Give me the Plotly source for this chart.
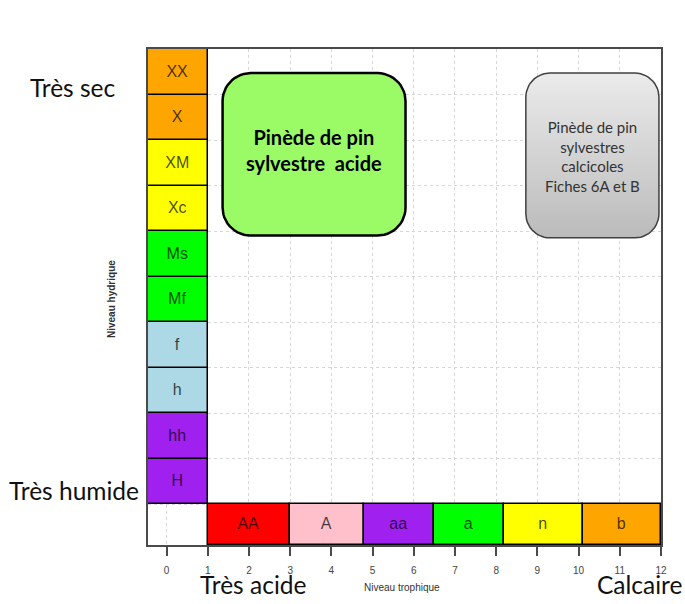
import numpy as np
import plotly.graph_objects as go

# ---------------- data ----------------
hydric_labels = ["H", "hh", "h", "f", "Mf", "Ms", "Xc", "XM", "X", "XX"]
hydric_colors = ["#A020F0", "#A020F0", "#ADD8E6", "#ADD8E6", "#00FF00", "#00FF00",
                 "#FFFF00", "#FFFF00", "#FFA500", "#FFA500"]
hydric_levels = [0, 1, 2, 3, 4, 5, 6, 7, 8, 9]

trophic_labels = ["AA", "A", "aa", "a", "n", "b"]
trophic_colors = ["#FF0000", "#FFC0CB", "#A020F0", "#00FF00", "#FFFF00", "#FFA500"]
trophic_bounds = [1, 3, 4.8, 6.5, 8.2, 10.1, 12]

x_ticks = list(range(0, 13))
y_grid = list(range(0, 11))

# habitat boxes: (x0, x1, y0, y1) in trophic / hydric units
box_acid = (1.36, 5.8, 5.9, 9.47)
box_calc = (8.72, 11.95, 5.85, 9.47)
text_acid = "<b>Pinède de pin<br>sylvestre  acide</b>"
text_calc = "Pinède de pin<br>sylvestres<br>calcicoles<br>Fiches 6A et B"

# ---------------- geometry ----------------
W, H = 685, 604
ML, MR, MT, MB = 148, 24, 49, 59
XR = [-0.45, 12.0]
YR = [-0.9, 10.0]
pw, ph = W - ML - MR, H - MT - MB
sx = pw / (XR[1] - XR[0])
sy = ph / (YR[1] - YR[0])

def paper(px, py):
    return (px - ML) / pw, (H - MB - py) / ph

def rounded(x0, x1, y0, y1, r_px, n=14):
    rx, ry = r_px / sx, r_px / sy
    xs, ys = [], []
    corners = [(x1 - rx, y1 - ry, 0), (x0 + rx, y1 - ry, 90),
               (x0 + rx, y0 + ry, 180), (x1 - rx, y0 + ry, 270)]
    for cx, cy, a0 in corners:
        for t in np.linspace(np.radians(a0), np.radians(a0 + 90), n):
            xs.append(cx + rx * np.cos(t))
            ys.append(cy + ry * np.sin(t))
    xs.append(xs[0]); ys.append(ys[0])
    return xs, ys

fig = go.Figure()

cell_font = dict(family="Liberation Sans, Arial", size=16, color="rgba(0,0,0,0.72)")

# left column: hydric levels
fig.add_trace(go.Bar(
    orientation="h",
    y=[v + 0.5 for v in hydric_levels],
    x=[1 - XR[0]] * len(hydric_levels),
    base=XR[0], width=1,
    marker=dict(color=hydric_colors, line=dict(color="black", width=1.5)),
    text=hydric_labels, textposition="inside", insidetextanchor="middle",
    textfont=cell_font, constraintext="none", hoverinfo="skip", showlegend=False,
))

# bottom row: trophic levels
tx = [(a + b) / 2 for a, b in zip(trophic_bounds[:-1], trophic_bounds[1:])]
tw = [b - a for a, b in zip(trophic_bounds[:-1], trophic_bounds[1:])]
fig.add_trace(go.Bar(
    x=tx, width=tw, y=[0 - YR[0]] * len(tx), base=YR[0],
    marker=dict(color=trophic_colors, line=dict(color="black", width=1.5)),
    text=trophic_labels, textposition="inside", insidetextanchor="middle",
    textfont=cell_font, constraintext="none", hoverinfo="skip", showlegend=False,
))

# habitat boxes
bx, by = rounded(*box_acid, r_px=28)
fig.add_trace(go.Scatter(x=bx, y=by, mode="lines", fill="toself",
                         fillcolor="#9BFB67", line=dict(color="black", width=2.5),
                         hoverinfo="skip", showlegend=False))
cx, cy = rounded(*box_calc, r_px=24)
fig.add_trace(go.Scatter(x=cx, y=cy, mode="lines", fill="toself",
                         fillgradient=dict(type="vertical",
                                           colorscale=[[0, "#BBBBBB"], [1, "#EBEBEB"]]),
                         line=dict(color="#404040", width=1.5),
                         hoverinfo="skip", showlegend=False))

fig.add_annotation(x=(box_acid[0] + box_acid[1]) / 2, y=(box_acid[2] + box_acid[3]) / 2 + 0.1,
                   text=text_acid, showarrow=False,
                   font=dict(family="Lato", size=20, color="black"))
fig.add_annotation(x=(box_calc[0] + box_calc[1]) / 2, y=(box_calc[2] + box_calc[3]) / 2 - 0.02,
                   text=text_calc, showarrow=False,
                   font=dict(family="Lato", size=15, color="#333333"))

# outer labels (page pixel positions)
outer = [("Très sec", 73, 87), ("Très humide", 74, 490),
         ("Très acide", 253, 584), ("Calcaire", 639, 584)]
for t, px, py in outer:
    ax, ay = paper(px, py)
    fig.add_annotation(xref="paper", yref="paper", x=ax, y=ay, text=t,
                       showarrow=False, xanchor="center", yanchor="middle",
                       font=dict(family="Lato", size=24.5, color="#111111"))

# axis titles
ax, ay = paper(402, 587)
fig.add_annotation(xref="paper", yref="paper", x=ax, y=ay, text="Niveau trophique",
                   showarrow=False, xanchor="center", yanchor="middle",
                   font=dict(family="Liberation Sans, Arial", size=10, color="#333"))
ax, ay = paper(111, 299)
fig.add_annotation(xref="paper", yref="paper", x=ax, y=ay, text="<b>Niveau hydrique</b>",
                   textangle=-90, showarrow=False, xanchor="center", yanchor="middle",
                   font=dict(family="Liberation Sans, Arial", size=10, color="#333"))

fig.update_layout(
    width=W, height=H, margin=dict(l=ML, r=MR, t=MT, b=MB),
    paper_bgcolor="white", plot_bgcolor="white", barmode="overlay",
    bargap=0,
)
fig.update_xaxes(range=XR, tickvals=x_ticks, showgrid=True, gridcolor="#D6D6D6",
                 griddash="3px,3px", gridwidth=1, zeroline=False,
                 showline=True, mirror=True, linecolor="#4a4a4a", linewidth=2,
                 ticks="outside", ticklen=9, tickwidth=2, tickcolor="#4a4a4a",
                 ticklabelstandoff=6,
                 tickfont=dict(family="Liberation Sans, Arial", size=10, color="#444"))
fig.update_yaxes(range=YR, tickvals=y_grid, showgrid=True, gridcolor="#D6D6D6",
                 griddash="3px,3px", gridwidth=1, zeroline=False,
                 showline=True, mirror=True, linecolor="#4a4a4a", linewidth=2,
                 showticklabels=False, ticks="")

fig.write_html("out.html", config={"displayModeBar": False},
               post_script="document.body.style.margin='0';document.body.style.overflow='hidden';")
